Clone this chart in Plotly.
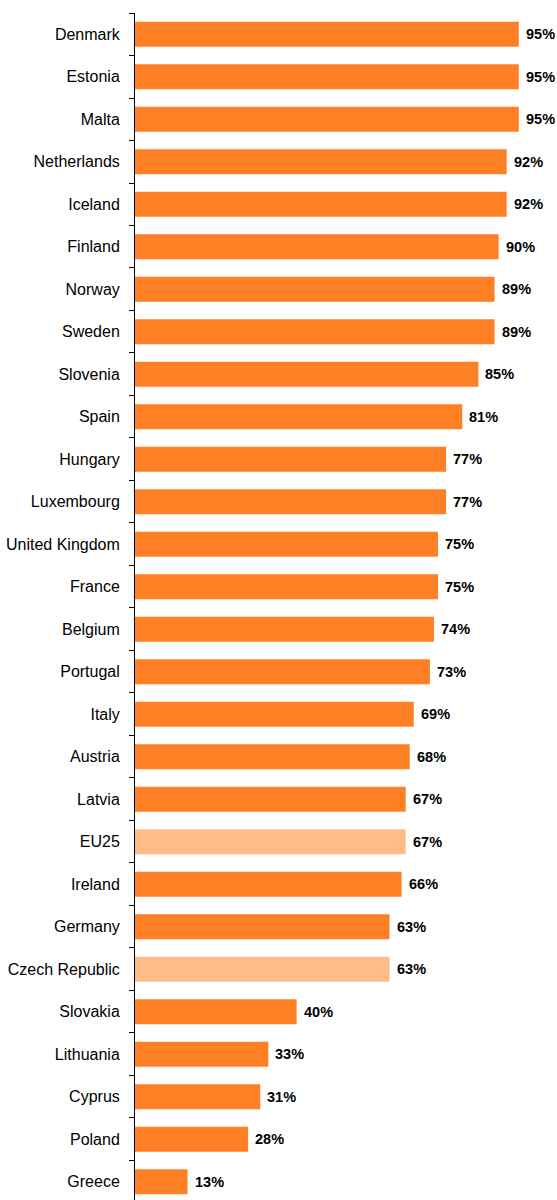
import plotly.graph_objects as go

countries = ["Denmark", "Estonia", "Malta", "Netherlands", "Iceland", "Finland", "Norway",
             "Sweden", "Slovenia", "Spain", "Hungary", "Luxembourg", "United Kingdom", "France",
             "Belgium", "Portugal", "Italy", "Austria", "Latvia", "EU25", "Ireland", "Germany",
             "Czech Republic", "Slovakia", "Lithuania", "Cyprus", "Poland", "Greece"]
values = [95, 95, 95, 92, 92, 90, 89, 89, 85, 81, 77, 77, 75, 75, 74, 73, 69, 68, 67, 67,
          66, 63, 63, 40, 33, 31, 28, 13]
highlight = ["EU25", "Czech Republic"]

MAIN = "#FF7F24"
LIGHT = "#FFBB88"
colors = [LIGHT if c in highlight else MAIN for c in countries]

fig = go.Figure(go.Bar(
    x=values, y=countries, orientation="h",
    marker=dict(color=colors, line=dict(width=0)),
    width=0.59,
))

for c, v in zip(countries, values):
    fig.add_annotation(x=v, y=c, text=f"{v}%", showarrow=False, xanchor="left",
                       xshift=5, font=dict(family="Liberation Sans, Arial", size=14.5,
                                           color="#000000", weight="bold"))

n = len(countries)
fig.update_layout(
    width=557, height=1200,
    margin=dict(l=135, r=18, t=13, b=0),
    paper_bgcolor="white", plot_bgcolor="white",
    showlegend=False,
    font=dict(family="Liberation Sans, Arial", size=16, color="#000000"),
    bargap=0.41,
)
fig.update_xaxes(range=[0, 100], visible=False)
fig.update_yaxes(
    type="category", range=[n - 1 + 0.43, -0.5],
    showline=True, linecolor="#000000", linewidth=1,
    ticks="outside", ticklen=5, tickcolor="#000000", tickson="boundaries",
    showgrid=False, zeroline=False, ticklabelstandoff=11,
)

fig.write_html("out.html")
